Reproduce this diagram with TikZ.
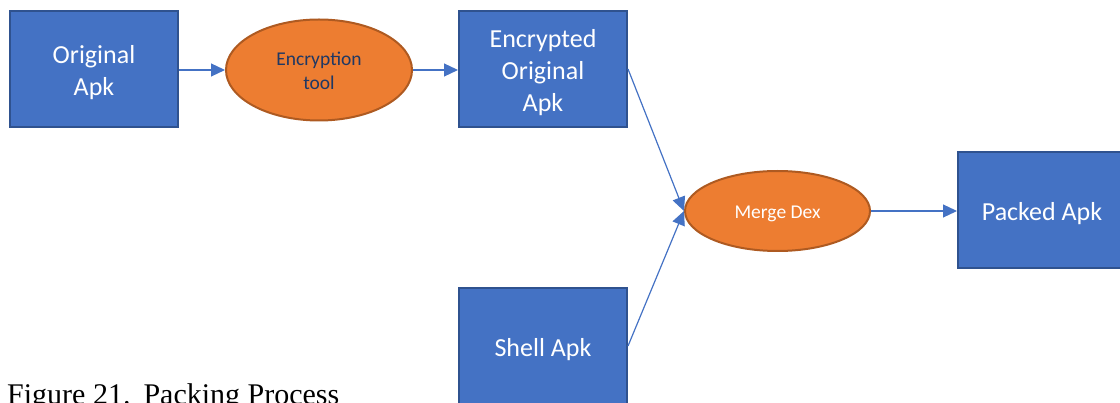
\documentclass[tikz,border=0pt]{standalone}
\usepackage{fontspec}
\setmainfont{Carlito}
\newfontfamily\capfont{Liberation Serif}
\usetikzlibrary{arrows.meta,shapes.geometric}
\definecolor{boxfill}{HTML}{4472C4}
\definecolor{boxline}{HTML}{2F528F}
\definecolor{ovfill}{HTML}{ED7D31}
\definecolor{ovline}{HTML}{AE5A21}
\definecolor{ovtext}{HTML}{1F3864}
\tikzset{
  apkbox/.style={draw=boxline, fill=boxfill, line width=2pt, minimum width=168pt, minimum height=116pt,
    inner sep=0pt},
  boxtext/.style={inner sep=0pt, text=white, align=center, font=\fontsize{26pt}{32pt}\selectfont},
  oval/.style={ellipse, draw=ovline, fill=ovfill, line width=2pt, inner sep=0pt},
  ovaltext/.style={inner sep=0pt, align=center, font=\fontsize{19.5pt}{23.5pt}\selectfont},
  conn/.style={draw=boxfill, line width=1.2pt, -{Triangle[length=14pt,width=13pt]}}
}
\begin{document}
\begin{tikzpicture}[x=1pt,y=-1pt]
\useasboundingbox (0,0) rectangle (1120,403);
\clip (0,0) rectangle (1120,403);
\node[apkbox] (orig) at (94,69) {};
\node[boxtext] (origtxt) at ([yshift=-4pt]orig.center) {Original\\Apk};
\node[oval, minimum width=186pt, minimum height=101pt] (enc) at (319,70) {};
\node[ovaltext, text=ovtext] (enctxt) at ([yshift=-1pt]enc.center) {Encryption\\tool};
\node[apkbox] (encapk) at (543,69) {};
\node[boxtext] (encapktxt) at ([yshift=-4pt]encapk.center) {Encrypted\\Original\\Apk};
\node[oval, minimum width=185pt, minimum height=80pt] (merge) at (777.5,211) {};
\node[ovaltext, text=white] (mergetxt) at ([yshift=-3pt]merge.center) {Merge Dex};
\node[apkbox] (packed) at (1042,210) {};
\node[boxtext] (packedtxt) at ([yshift=-4pt]packed.center) {Packed Apk};
\node[apkbox] (shell) at (543,346) {};
\node[boxtext] (shelltxt) at ([yshift=-4pt]shell.center) {Shell Apk};
\node[anchor=base west, inner sep=0pt, font=\capfont\fontsize{30pt}{36pt}\selectfont] (cap) at (7,405) {Figure 21.\hspace{13pt}Packing Process};
\draw[conn] (orig.east |- enc.west) -- (enc.west);
\draw[conn] (enc.east) -- (encapk.west |- enc.east);
\draw[conn] (encapk.east) -- (merge.west);
\draw[conn] (shell.east) -- (merge.west);
\draw[conn] (merge.east) -- (packed.west |- merge.east);
\end{tikzpicture}
\end{document}
